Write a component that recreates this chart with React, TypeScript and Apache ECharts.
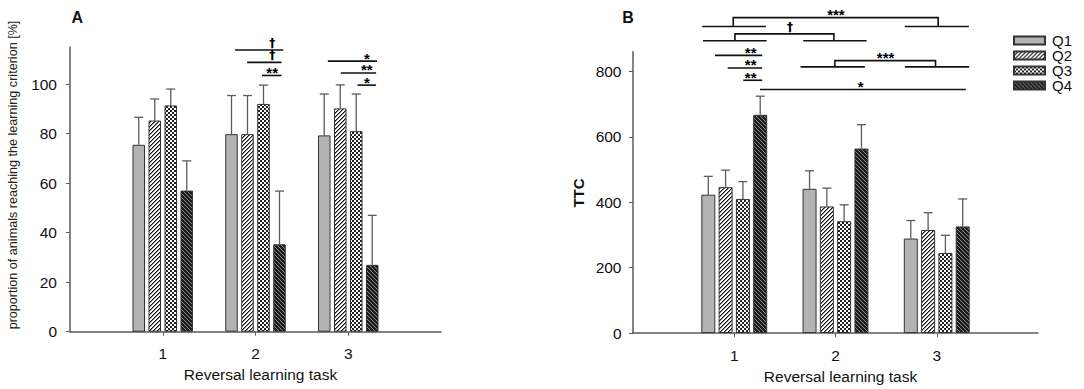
import React, { useEffect, useRef } from "react";
import * as echarts from "echarts";

// ---------- data ----------
const tasks = [1, 2, 3];
const quartiles = ["Q1", "Q2", "Q3", "Q4"];

// Panel A: proportion of animals reaching the learning criterion [%] (per quartile, per task)
const propMean = [
  [75.5, 79.8, 79.3],
  [85.3, 79.8, 90.2],
  [91.4, 92.0, 81.0],
  [57.0, 35.3, 27.0],
];
const propUpper = [
  [86.6, 95.4, 96.0],
  [94.0, 95.4, 99.7],
  [98.0, 99.6, 96.0],
  [69.0, 56.8, 47.0],
];

// Panel B: TTC (per quartile, per task)
const ttcMean = [
  [423, 441, 289],
  [446, 387, 315],
  [410, 342, 245],
  [667, 564, 326],
];
const ttcUpper = [
  [479, 496, 344],
  [498, 443, 368],
  [463, 392, 299],
  [724, 637, 410],
];

const yTicksA = [0, 20, 40, 60, 80, 100];
const yTicksB = [0, 200, 400, 600, 800];

// significance lines (data coordinates): x1, x2, y, label, label x
const sigA = [
  { x1: 1.78, x2: 2.3, y: 113.8, label: "†", lx: 2.18 },
  { x1: 1.91, x2: 2.28, y: 108.8, label: "†", lx: 2.18 },
  { x1: 2.07, x2: 2.28, y: 103.5, label: "**", lx: 2.18 },
  { x1: 2.78, x2: 3.31, y: 109.3, label: "*", lx: 3.2 },
  { x1: 2.92, x2: 3.3, y: 104.5, label: "**", lx: 3.2 },
  { x1: 3.1, x2: 3.3, y: 99.6, label: "*", lx: 3.2 },
];
const sigBLines = [
  { x1: 0.81, x2: 1.276, y: 848.7, label: "**", lx: 1.162 },
  { x1: 0.935, x2: 1.276, y: 810.4, label: "**", lx: 1.162 },
  { x1: 1.089, x2: 1.276, y: 772.7, label: "**", lx: 1.162 },
  { x1: 1.254, x2: 3.287, y: 744.5, label: "*", lx: 2.248 },
];
// task-group comparisons: base lines a1..a2 and b1..b2, connector from ca to cb at "top"
const sigBGroups = [
  { a1: 0.684, a2: 1.313, b1: 2.685, b2: 3.317, base: 936.8, top: 964.2, ca: 0.99, cb: 3.014, label: "***", lx: 2.004 },
  { a1: 0.691, a2: 1.32, b1: 1.681, b2: 2.307, base: 893.6, top: 914.6, ca: 1.007, cb: 1.984, label: "†", lx: 1.55 },
  { a1: 1.655, a2: 2.29, b1: 2.685, b2: 3.32, base: 813.7, top: 832.6, ca: 1.994, cb: 2.988, label: "***", lx: 2.495 },
];

// ---------- styles ----------
const FONT = '"Liberation Sans", Arial, Helvetica, sans-serif';
const AXIS_COLOR = "#5a5a5a";
const TEXT_COLOR = "#111";
const BORDER = "#333";
const TICK_FONT = 15.5;

function makeFill(kind: number): any {
  if (kind === 0) return "#b3b3b3";
  const n = 4;
  const c = document.createElement("canvas");
  c.width = n;
  c.height = n;
  const ctx = c.getContext("2d")!;
  const px = (x: number, y: number, col: string) => {
    ctx.fillStyle = col;
    ctx.fillRect(x, y, 1, 1);
  };
  if (kind === 1) {
    ctx.fillStyle = "#ffffff";
    ctx.fillRect(0, 0, n, n);
    for (let i = 0; i < n; i++) {
      px(i, n - 1 - i, "#111");
      px(i, (n - i) % n, "#888");
    }
  } else if (kind === 2) {
    ctx.fillStyle = "#ffffff";
    ctx.fillRect(0, 0, n, n);
    ctx.fillStyle = "#222";
    ctx.fillRect(0, 0, 2, 2);
    ctx.fillRect(2, 2, 2, 2);
  } else {
    ctx.fillStyle = "#1d1d1d";
    ctx.fillRect(0, 0, n, n);
    for (let i = 0; i < n; i++) px(i, i, "#8a8a8a");
  }
  return { image: c, repeat: "repeat", imageWidth: n, imageHeight: n };
}

export default function App() {
  const ref = useRef<HTMLDivElement>(null);

  useEffect(() => {
    if (!ref.current) return;
    const chart = echarts.init(ref.current, null, { renderer: "svg" });
    const fills = [0, 1, 2, 3].map(makeFill);

    const panels = [
      { mean: propMean, upper: propUpper, barWidth: 12.5, gap: 3.5 },
      { mean: ttcMean, upper: ttcUpper, barWidth: 14, gap: 3.3 },
    ];

    const series: any[] = [];
    panels.forEach((p, g) => {
      quartiles.forEach((q, qi) => {
        series.push({
          type: "bar",
          name: q,
          xAxisIndex: g,
          yAxisIndex: g,
          data: tasks.map((t, i) => [t, p.mean[qi][i]]),
          barWidth: p.barWidth,
          barGap: (p.gap / p.barWidth) * 100 + "%",
          itemStyle: { color: fills[qi], borderColor: BORDER, borderWidth: 1 },
          z: 3,
          silent: true,
        });
      });
      const pitch = p.barWidth + p.gap;
      const errData: number[][] = [];
      quartiles.forEach((_, qi) =>
        tasks.forEach((t, i) => errData.push([t, p.mean[qi][i], p.upper[qi][i], qi]))
      );
      series.push({
        type: "custom",
        xAxisIndex: g,
        yAxisIndex: g,
        data: errData,
        encode: { x: 0, y: 2 },
        z: 2,
        silent: true,
        renderItem: (params: any, api: any) => {
          const x = api.value(0);
          const qi = api.value(3);
          const b = api.coord([x, api.value(1)]);
          const t = api.coord([x, api.value(2)]);
          const cx = b[0] + (qi - 1.5) * pitch;
          const s = { stroke: "#5c5c5c", lineWidth: 1.3 };
          return {
            type: "group",
            children: [
              { type: "line", shape: { x1: cx, y1: b[1], x2: cx, y2: t[1] }, style: s },
              { type: "line", shape: { x1: cx - 4.5, y1: t[1], x2: cx + 4.5, y2: t[1] }, style: s },
            ],
          };
        },
      });
    });

    const lineStyle = { stroke: "#111", lineWidth: 1.6 };
    const labelEl = (x: number, y: number, label: string) => ({
      type: "text",
      x,
      y: y + (label === "†" ? -7 : -3),
      style: {
        text: label,
        fill: "#000",
        font: label === "†" ? `bold 12px "DejaVu Sans", ${FONT}` : `bold 15px ${FONT}`,
        lineHeight: 9,
        textAlign: "center",
        textVerticalAlign: "middle",
      },
    });

    const simpleSig = (arr: any[], g: number) => ({
      type: "custom",
      xAxisIndex: g,
      yAxisIndex: g,
      data: arr.map((s) => [s.x1, s.y]),
      encode: { x: 0, y: 1 },
      silent: true,
      z: 5,
      renderItem: (params: any, api: any) => {
        const s = arr[params.dataIndex];
        const a = api.coord([s.x1, s.y]);
        const b = api.coord([s.x2, s.y]);
        const l = api.coord([s.lx, s.y]);
        return {
          type: "group",
          children: [
            { type: "line", shape: { x1: a[0], y1: a[1], x2: b[0], y2: b[1] }, style: lineStyle },
            labelEl(l[0], l[1], s.label),
          ],
        };
      },
    });

    series.push(simpleSig(sigA, 0));
    series.push(simpleSig(sigBLines, 1));
    series.push({
      type: "custom",
      xAxisIndex: 1,
      yAxisIndex: 1,
      data: sigBGroups.map((s) => [s.a1, s.base]),
      encode: { x: 0, y: 1 },
      silent: true,
      z: 5,
      renderItem: (params: any, api: any) => {
        const s = sigBGroups[params.dataIndex];
        const c = (x: number, y: number) => api.coord([x, y]);
        const a1 = c(s.a1, s.base), a2 = c(s.a2, s.base);
        const b1 = c(s.b1, s.base), b2 = c(s.b2, s.base);
        const ca = c(s.ca, s.base), cat = c(s.ca, s.top);
        const cb = c(s.cb, s.base), cbt = c(s.cb, s.top);
        const l = c(s.lx, s.top);
        return {
          type: "group",
          children: [
            { type: "line", shape: { x1: a1[0], y1: a1[1], x2: a2[0], y2: a2[1] }, style: lineStyle },
            { type: "line", shape: { x1: b1[0], y1: b1[1], x2: b2[0], y2: b2[1] }, style: lineStyle },
            {
              type: "polyline",
              shape: { points: [ca, cat, cbt, cb] },
              style: { ...lineStyle, fill: null },
            },
            labelEl(l[0], l[1], s.label),
          ],
        };
      },
    });

    const xAxisBase = (gridIndex: number, margin: number, gap: number) => ({
      type: "value",
      gridIndex,
      min: 0,
      max: 4,
      interval: 1,
      splitLine: { show: false },
      axisLine: { show: true, onZero: false, lineStyle: { color: AXIS_COLOR, width: 1.5 } },
      axisTick: { show: true, length: 4, customValues: tasks, lineStyle: { color: AXIS_COLOR } },
      axisLabel: { customValues: tasks, fontSize: TICK_FONT, color: TEXT_COLOR, fontFamily: FONT, margin },
      name: "Reversal learning task",
      nameLocation: "middle",
      nameGap: gap,
      nameTextStyle: { fontSize: TICK_FONT, color: TEXT_COLOR, fontFamily: FONT, padding: [0, 0, 0, 10] },
    });
    const yAxisBase = (gridIndex: number, max: number, interval: number, ticks: number[], margin: number) => ({
      type: "value",
      gridIndex,
      min: 0,
      max,
      interval,
      splitLine: { show: false },
      axisLine: { show: true, lineStyle: { color: AXIS_COLOR, width: 1.5 } },
      axisTick: { show: true, length: 4, customValues: ticks, lineStyle: { color: AXIS_COLOR } },
      axisLabel: { customValues: ticks, fontSize: TICK_FONT, color: TEXT_COLOR, fontFamily: FONT, margin },
    });

    chart.setOption({
      animation: false,
      backgroundColor: "#ffffff",
      textStyle: { fontFamily: FONT },
      grid: [
        { left: 70, top: 47, width: 371, height: 284.7 },
        { left: 633, top: 51.7, width: 405, height: 283.3 },
      ],
      xAxis: [xAxisBase(0, 13.5, 34.5), xAxisBase(1, 14, 32)],
      yAxis: [yAxisBase(0, 115, 20, yTicksA, 13), yAxisBase(1, 860, 200, yTicksB, 11.5)],
      legend: {
        data: quartiles,
        orient: "vertical",
        left: 1013,
        top: 33,
        padding: 0,
        itemWidth: 31,
        itemHeight: 8,
        itemGap: 0,
        icon: "rect",
        selectedMode: false,
        textStyle: { fontSize: 15, color: TEXT_COLOR, fontFamily: FONT, lineHeight: 15, padding: [0, 0, 0, 2] },
      },
      graphic: [
        {
          type: "text",
          x: 77.3,
          y: 17.2,
          style: { text: "A", font: `bold 16px ${FONT}`, fill: "#111", textAlign: "center", textVerticalAlign: "middle" },
        },
        {
          type: "text",
          x: 628,
          y: 17.2,
          style: { text: "B", font: `bold 16px ${FONT}`, fill: "#111", textAlign: "center", textVerticalAlign: "middle" },
        },
        {
          type: "text",
          x: 13,
          y: 175,
          rotation: Math.PI / 2,
          style: {
            text: "proportion of animals reaching the learning criterion [%]",
            font: `12.6px ${FONT}`,
            fill: "#222",
            textAlign: "center",
            textVerticalAlign: "middle",
          },
        },
        {
          type: "text",
          x: 578,
          y: 193,
          rotation: Math.PI / 2,
          style: { text: "TTC", font: `bold 15px ${FONT}`, fill: "#111", textAlign: "center", textVerticalAlign: "middle" },
        },
      ],
      series,
    });

    return () => chart.dispose();
  }, []);

  return (
    <div
      ref={ref}
      style={{ position: "absolute", left: 0, top: 0, width: 1084, height: 389, background: "#fff" }}
    />
  );
}
